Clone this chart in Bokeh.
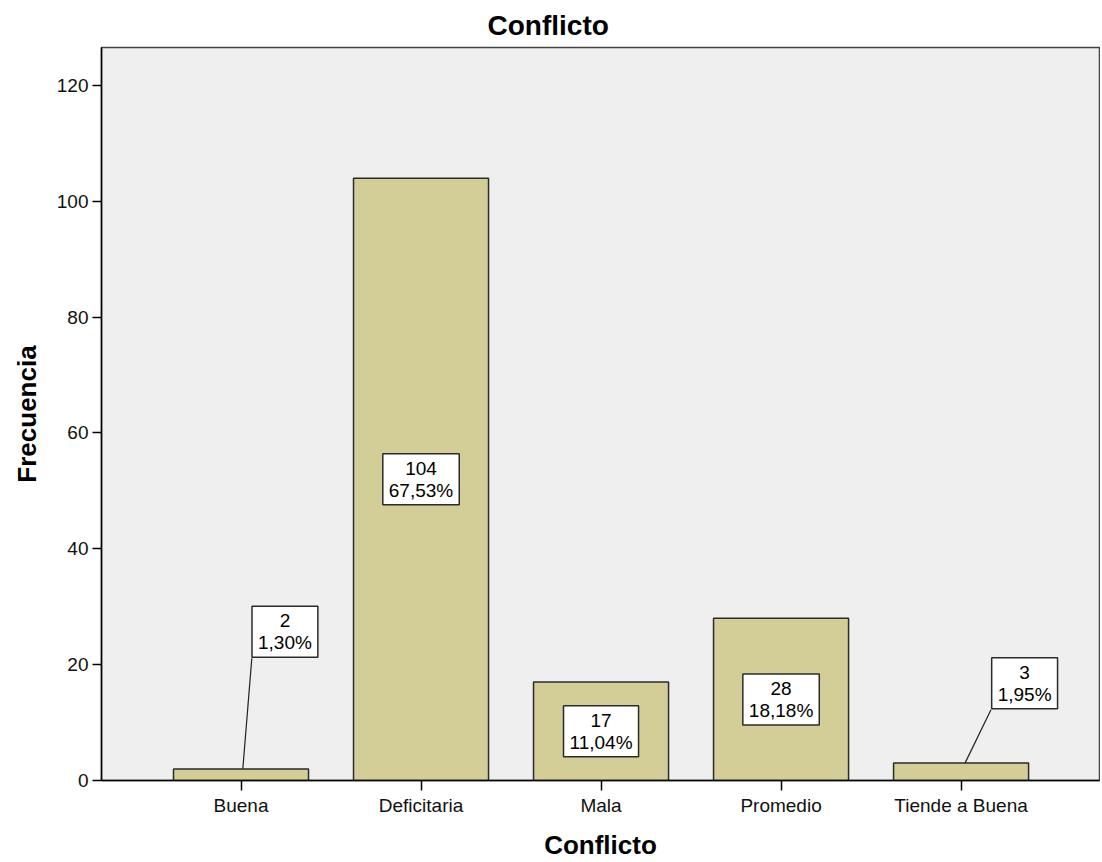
from bokeh.plotting import figure
from bokeh.models import Range1d, FixedTicker, ColumnDataSource
from bokeh.core.properties import value
from bokeh.embed import file_html
from bokeh.resources import INLINE

categories = ["Buena", "Deficitaria", "Mala", "Promedio", "Tiende a Buena"]
counts = [2, 104, 17, 28, 3]
percents = ["1,30%", "67,53%", "11,04%", "18,18%", "1,95%"]
y_ticks = [0, 20, 40, 60, 80, 100, 120]

# callout placement (style): category -> (box dx, box y, line start dx, line end dx, line end y)
callouts = {
    "Buena": (0.244, 25.7, 0.01, 0.06, 21.1),
    "Tiende a Buena": (0.353, 16.8, 0.022, 0.166, 12.2),
}

FONT = "Liberation Sans"
xs = list(range(len(categories)))

p = figure(width=1100, height=862, output_backend="svg", toolbar_location=None,
           x_range=Range1d(-0.775, 4.769), y_range=Range1d(0, 126.56),
           min_border_left=101, min_border_right=1, min_border_top=47, min_border_bottom=82,
           title="Conflicto")

p.background_fill_color = "#efefef"
p.border_fill_color = "white"
p.outline_line_color = "#444444"
p.outline_line_width = 1.5
p.xgrid.visible = False
p.ygrid.visible = False

p.title.align = "left"
p.title.offset = 386
p.title.standoff = 13
p.title.text_font = FONT
p.title.text_font_size = "28px"
p.title.text_font_style = "bold"
p.title.text_color = "black"

bars = ColumnDataSource(dict(x=xs, top=counts))
p.vbar(x="x", top="top", bottom=0, width=0.75, source=bars,
       fill_color="#d3ce98", line_color="#2b2b2b", line_width=1.5)

lx, ly, lt = [], [], []
sx0, sy0, sx1, sy1 = [], [], [], []
for i, (c, v, pc) in enumerate(zip(categories, counts, percents)):
    lt.append(f"{v}\n{pc}")
    if c in callouts:
        bdx, by, l0, l1, ly1 = callouts[c]
        lx.append(i + bdx); ly.append(by)
        sx0.append(i + l0); sy0.append(v); sx1.append(i + l1); sy1.append(ly1)
    else:
        lx.append(i); ly.append(v / 2)

p.segment(x0=sx0, y0=sy0, x1=sx1, y1=sy1, line_color="#222222", line_width=1.2)

labels = ColumnDataSource(dict(x=lx, y=ly, text=lt))
p.text(x="x", y="y", text="text", source=labels, text_align="center", text_baseline="middle",
       text_font=value(FONT), text_font_size="19px", text_color="black", text_line_height=1.05,
       background_fill_color="white", border_line_color="#2b2b2b", border_line_width=1.5,
       padding=(6, 4))

xa = p.xaxis[0]
xa.ticker = FixedTicker(ticks=xs)
xa.major_label_overrides = {i: c for i, c in enumerate(categories)}
xa.minor_tick_line_color = None
xa.major_tick_in = 0
xa.major_tick_out = 10
xa.axis_label = "Conflicto"
xa.axis_label_text_font = FONT
xa.axis_label_text_font_size = "26px"
xa.axis_label_text_font_style = "bold"
xa.axis_label_text_color = "black"
xa.major_label_text_font = FONT
xa.major_label_text_font_size = "19px"
xa.major_label_text_color = "#111111"
xa.axis_line_color = "black"
xa.axis_line_width = 1.5
xa.major_tick_line_width = 1.5
xa.major_label_standoff = 4
xa.axis_label_standoff = 11

ya = p.yaxis[0]
ya.ticker = FixedTicker(ticks=y_ticks)
ya.minor_tick_line_color = None
ya.major_tick_in = 0
ya.major_tick_out = 9
ya.axis_label = "Frecuencia"
ya.axis_label_text_font = FONT
ya.axis_label_text_font_size = "26px"
ya.axis_label_text_font_style = "bold"
ya.axis_label_text_color = "black"
ya.major_label_text_font = FONT
ya.major_label_text_font_size = "19px"
ya.major_label_text_color = "#111111"
ya.axis_line_color = "black"
ya.axis_line_width = 1.5
ya.major_tick_line_width = 1.5
ya.major_label_standoff = 4
ya.axis_label_standoff = 12

open("out.html", "w").write(file_html(p, INLINE))
